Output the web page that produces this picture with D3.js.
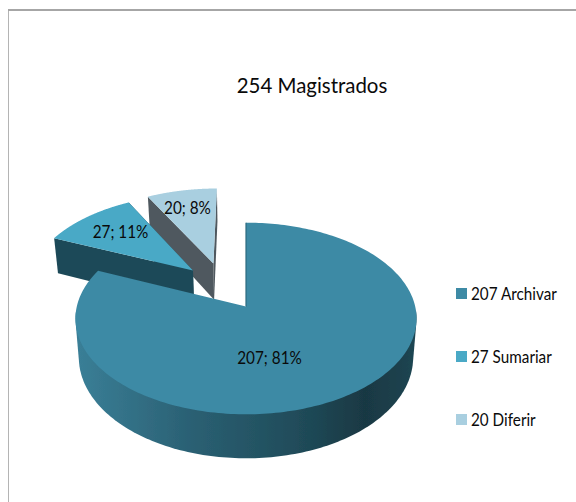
<!DOCTYPE html>
<html><head><meta charset="utf-8">
<script src="https://cdn.jsdelivr.net/npm/d3@7"></script>
<style>html,body{margin:0;padding:0;background:#fff}svg{display:block}text{font-family:Lato,"Open Sans",sans-serif;fill:#0a0a0a}</style>
</head><body><svg id="c" width="576" height="502"></svg>
<script>
const categories = ["207 Archivar","27 Sumariar","20 Diferir"];
const values = [207,27,20];
const dataLabels = ["207; 81%","27; 11%","20; 8%"];
const faceColors = ["#3d8aa5","#4aa9c6","#a9cfe0"];
const cutColors = ["#2d6a80","#1f4a58","#50595f"];
const explodeU = [0,-0.329,-0.204];
const explodeT = [0,-0.4,-0.483];
const titleText = "254 Magistrados";

const svg = d3.select("#c");
const defs = svg.append("defs");
const grad = defs.append("linearGradient").attr("id","wall").attr("gradientUnits","userSpaceOnUse")
  .attr("x1",76).attr("x2",417).attr("y1",0).attr("y2",0);
[[0,"#3a7f97"],[0.35,"#2a5f72"],[0.65,"#204c5a"],[0.85,"#193843"],[1,"#1e4653"]].forEach(s=>
  grad.append("stop").attr("offset",s[0]).attr("stop-color",s[1]));
defs.append("filter").attr("id","soft").attr("x","-5%").attr("y","-5%").attr("width","110%").attr("height","110%")
  .append("feGaussianBlur").attr("stdDeviation",0.5);

// frame
svg.append("path").attr("d","M8.5 502V10").attr("fill","none").attr("stroke","#b4b4b4").attr("stroke-width",1);
svg.append("path").attr("d","M8 10H576").attr("fill","none").attr("stroke","#a6a6a6").attr("stroke-width",2);

// perspective projection of the pie disc
const cx=246, A=169.2, b=306.5, a=56, c=-0.125, D=38.5, shrink=0.98;
const px=(u,t)=>cx+A*u/(1+c*t);
const py=(u,t)=>(a*t+b)/(1+c*t);
const pxB=(u,t)=>cx+shrink*A*u/(1+c*t);
const pyB=(u,t)=>py(u,t)+D/(1+c*t);

const arcs = d3.pie().sort(null).startAngle(0).endAngle(2*Math.PI)(values);
const line = d3.line();
const pie = svg.append("g").attr("filter","url(#soft)");
[2,1,0].forEach(i=>{
  const s=arcs[i], du=explodeU[i], dt=explodeT[i];
  const g=pie.append("g");
  const steps=d3.range(0,241).map(k=>s.startAngle+(s.endAngle-s.startAngle)*k/240);
  const rim=steps.map(th=>[Math.sin(th)+du,-Math.cos(th)+dt]);
  const apex=[du,dt];
  const top=p=>[px(p[0],p[1]),py(p[0],p[1])];
  const bot=p=>[pxB(p[0],p[1]),pyB(p[0],p[1])];
  const cut=p=>[top(apex),top(p),bot(p),bot(apex)];
  if(i===0){
    const w=rim.filter(p=>p[1]-dt>0.05);
    const hull=d3.polygonHull(w.map(top).concat(w.map(bot)));
    g.append("path").attr("d",line(hull)+"Z").attr("fill","url(#wall)");
  } else {
    g.append("path").attr("d",line(cut(rim[240]))+"Z").attr("fill",cutColors[i]);
    g.append("path").attr("d",line(cut(rim[0]))+"Z").attr("fill",cutColors[i]);
  }
  g.append("path").attr("d",line([top(apex)].concat(rim.map(top)))+"Z").attr("fill",faceColors[i]);
  if(i===0){
    g.append("path").attr("d",line([top(apex),top(rim[0])])).attr("fill","none")
      .attr("stroke",cutColors[i]).attr("stroke-width",1.5).attr("stroke-opacity",0.8);
  }
});

function squeeze(sel,f){ const n=sel.node(); sel.attr("textLength",n.getComputedTextLength()*f).attr("lengthAdjust","spacingAndGlyphs"); return sel; }
squeeze(svg.append("text").attr("x",312).attr("y",92.5).attr("text-anchor","middle").attr("font-size",21.5).text(titleText),0.95);
const labelX=[269.5,120.5,187.5], labelY=[364,238,214];
dataLabels.forEach((t,i)=>squeeze(svg.append("text").attr("x",labelX[i]).attr("y",labelY[i]).attr("text-anchor","middle").attr("font-size",17).text(t),0.9));
const legendY=[288,351,414];
categories.forEach((t,i)=>{
  svg.append("rect").attr("x",456).attr("y",legendY[i]).attr("width",11).attr("height",11).attr("fill",faceColors[i]);
  squeeze(svg.append("text").attr("x",471).attr("y",legendY[i]+12).attr("font-size",16.5).text(t),0.925);
});
</script></body></html>
